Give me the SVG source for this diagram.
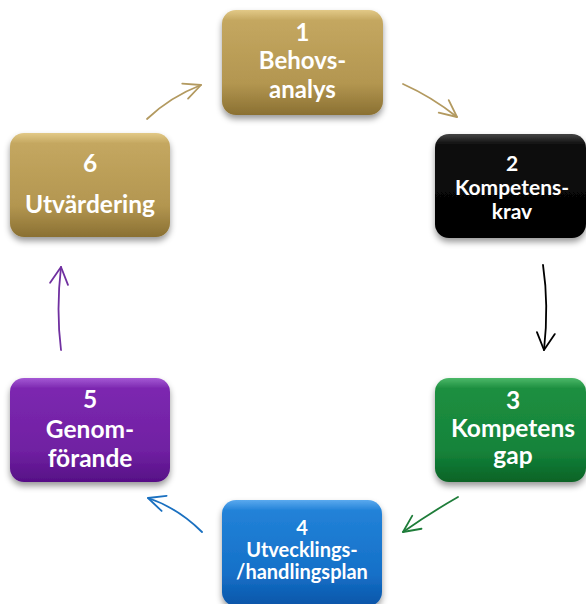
<svg xmlns="http://www.w3.org/2000/svg" width="586" height="604" viewBox="0 0 586 604">
<defs>
<style>
.t{font-family:Lato,"Open Sans","Liberation Sans",sans-serif;font-weight:bold;fill:#fff;text-anchor:middle}
.c{fill:none;stroke-width:1.8;stroke-linecap:round}
</style>
<filter id="sh" x="-10%" y="-10%" width="125%" height="135%">
<feDropShadow dx="0" dy="4" stdDeviation="3" flood-color="#000" flood-opacity="0.4"/>
</filter>
<linearGradient id="gGold" x1="0" y1="0" x2="0" y2="1">
<stop offset="0" stop-color="#e2c987"/><stop offset="0.1" stop-color="#c4a760"/><stop offset="0.7" stop-color="#b39650"/><stop offset="1" stop-color="#8a7032"/>
</linearGradient>
<linearGradient id="gBlack" x1="0" y1="0" x2="0" y2="1">
<stop offset="0" stop-color="#444"/><stop offset="0.1" stop-color="#0e0e0e"/><stop offset="1" stop-color="#000"/>
</linearGradient>
<linearGradient id="gGreen" x1="0" y1="0" x2="0" y2="1">
<stop offset="0" stop-color="#4bb868"/><stop offset="0.1" stop-color="#1e8f40"/><stop offset="0.7" stop-color="#14833a"/><stop offset="1" stop-color="#0a6326"/>
</linearGradient>
<linearGradient id="gBlue" x1="0" y1="0" x2="0" y2="1">
<stop offset="0" stop-color="#5aa9ee"/><stop offset="0.1" stop-color="#2282d8"/><stop offset="0.7" stop-color="#1570c8"/><stop offset="1" stop-color="#0a55a8"/>
</linearGradient>
<linearGradient id="gPurple" x1="0" y1="0" x2="0" y2="1">
<stop offset="0" stop-color="#a458d4"/><stop offset="0.1" stop-color="#7c28b0"/><stop offset="0.7" stop-color="#7020a2"/><stop offset="1" stop-color="#561086"/>
</linearGradient>
<marker id="mGold" markerUnits="userSpaceOnUse" markerWidth="24" markerHeight="24" refX="0" refY="0" viewBox="-20 -12 24 24" orient="auto"><path d="M-17,-8 L0,0 L-17,8" fill="none" stroke="#b39a60" stroke-width="1.8" stroke-linecap="round" stroke-linejoin="round"/></marker>
<marker id="mBlack" markerUnits="userSpaceOnUse" markerWidth="24" markerHeight="24" refX="0" refY="0" viewBox="-20 -12 24 24" orient="auto"><path d="M-17,-9 L0,0 L-17,9" fill="none" stroke="#000" stroke-width="1.8" stroke-linecap="round" stroke-linejoin="round"/></marker>
<marker id="mGreen" markerUnits="userSpaceOnUse" markerWidth="24" markerHeight="24" refX="0" refY="0" viewBox="-20 -12 24 24" orient="auto"><path d="M-17,-8 L0,0 L-17,8" fill="none" stroke="#1f7d3a" stroke-width="1.8" stroke-linecap="round" stroke-linejoin="round"/></marker>
<marker id="mBlue" markerUnits="userSpaceOnUse" markerWidth="24" markerHeight="24" refX="0" refY="0" viewBox="-20 -12 24 24" orient="auto"><path d="M-17,-8 L0,0 L-17,8" fill="none" stroke="#1a70c0" stroke-width="1.8" stroke-linecap="round" stroke-linejoin="round"/></marker>
<marker id="mPurple" markerUnits="userSpaceOnUse" markerWidth="24" markerHeight="24" refX="0" refY="0" viewBox="-20 -12 24 24" orient="auto"><path d="M-17,-9 L0,0 L-17,9" fill="none" stroke="#7030a0" stroke-width="1.8" stroke-linecap="round" stroke-linejoin="round"/></marker>
</defs>
<rect width="586" height="604" fill="#fff"/>
<g id="connectors">
<path class="c" d="M147,119 Q170,97 201,85" stroke="#b39a60" marker-end="url(#mGold)"/>
<path class="c" d="M403,84 Q432,97 457,117" stroke="#b39a60" marker-end="url(#mGold)"/>
<path class="c" d="M543,265 Q549,305 544,350" stroke="#000" marker-end="url(#mBlack)"/>
<path class="c" d="M458,497 Q430,513 403,532" stroke="#1f7d3a" marker-end="url(#mGreen)"/>
<path class="c" d="M202,532 Q178,508 148,498" stroke="#1a70c0" marker-end="url(#mBlue)"/>
<path class="c" d="M61,350 Q56,310 61,267" stroke="#7030a0" marker-end="url(#mPurple)"/>
</g>
<g id="node1">
<rect x="222" y="10" width="161" height="105" rx="14" fill="url(#gGold)" filter="url(#sh)"/>
<text class="t" x="302.5" y="41" font-size="24">1</text>
<text class="t" x="302.5" y="69" font-size="24">Behovs-</text>
<text class="t" x="302.5" y="98" font-size="24">analys</text>
</g>
<g id="node2">
<rect x="435" y="134" width="151" height="104" rx="14" fill="url(#gBlack)" filter="url(#sh)"/>
<text class="t" x="512" y="171" font-size="21">2</text>
<text class="t" x="512" y="195" font-size="21">Kompetens-</text>
<text class="t" x="512" y="219" font-size="21">krav</text>
</g>
<g id="node3">
<rect x="435" y="378" width="151" height="104" rx="14" fill="url(#gGreen)" filter="url(#sh)"/>
<text class="t" x="513" y="409" font-size="24.5">3</text>
<text class="t" x="513" y="437" font-size="24.5">Kompetens</text>
<text class="t" x="513" y="464" font-size="24.5">gap</text>
</g>
<g id="node4">
<rect x="222" y="500" width="160" height="106" rx="14" fill="url(#gBlue)" filter="url(#sh)"/>
<text class="t" x="302" y="535" font-size="20">4</text>
<text class="t" x="302" y="557" font-size="20">Utvecklings-</text>
<text class="t" x="302" y="579" font-size="20">/handlingsplan</text>
</g>
<g id="node5">
<rect x="10" y="378" width="160" height="104" rx="14" fill="url(#gPurple)" filter="url(#sh)"/>
<text class="t" x="90" y="408" font-size="24.5">5</text>
<text class="t" x="90" y="438" font-size="24.5">Genom-</text>
<text class="t" x="90" y="467" font-size="24.5">förande</text>
</g>
<g id="node6">
<rect x="10" y="133" width="160" height="104" rx="14" fill="url(#gGold)" filter="url(#sh)"/>
<text class="t" x="90" y="172" font-size="24.5">6</text>
<text class="t" x="90" y="213" font-size="24.5">Utvärdering</text>
</g>
</svg>
